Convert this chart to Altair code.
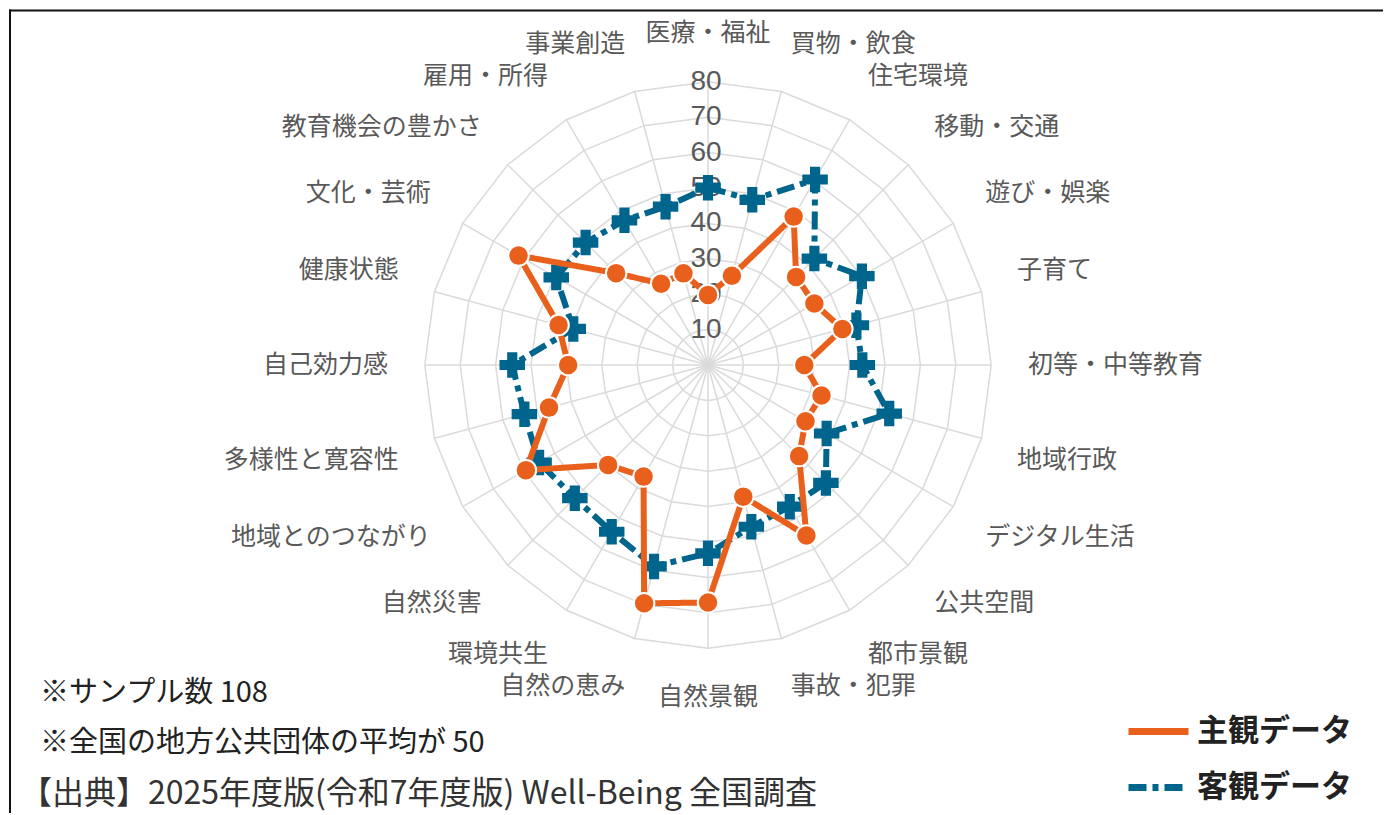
import altair as alt
import pandas as pd

# ---------------- data ----------------
categories = ["医療・福祉", "買物・飲食", "住宅環境", "移動・交通", "遊び・娯楽", "子育て",
              "初等・中等教育", "地域行政", "デジタル生活", "公共空間", "都市景観", "事故・犯罪",
              "自然景観", "自然の恵み", "環境共生", "自然災害", "地域とのつながり", "多様性と寛容性",
              "自己効力感", "健康状態", "文化・芸術", "教育機会の豊かさ", "雇用・所得", "事業創造"]
subjective = [19.8, 26.1, 48.4, 35.2, 34.7, 39.3, 27.2, 33.2, 31.8, 36.4, 55.6, 38.5,
              67.1, 69.7, 36.4, 39.9, 59.4, 46.5, 39.5, 43.7, 61.8, 36.7, 26.5, 26.8]
objective = [50.1, 48.3, 60.5, 42.5, 50.2, 43.4, 43.6, 53.0, 38.7, 47.1, 46.2, 47.3,
             53.2, 58.9, 54.4, 53.2, 55.1, 53.7, 55.3, 39.4, 49.5, 48.9, 47.2, 46.3]
series_names = ["主観データ", "客観データ"]
ring_values = [10, 20, 30, 40, 50, 60, 70, 80]
tick_labels = ["10", "20", "30", "40", "50", "60", "70", "80"]
notes = ["※サンプル数 108", "※全国の地方公共団体の平均が 50"]
source_text = "【出典】2025年度版(令和7年度版) Well-Being 全国調査"

# ---------------- style / layout ----------------
ORANGE = "#E8601C"
BLUE = "#00658C"
GRID = "#DADADA"
TEXT_GRAY = "#595959"
JP = "Noto Sans CJK JP"

W, H = 1375, 805          # view size
CX, CY = 700, 357          # radar centre inside the view
K = 3.54                   # pixels per unit
R_MAX = 80
N = len(categories)
LABEL_R = 90.4
LABEL_OFF = 3.4

xs = alt.Scale(domain=[-CX / K, (W - CX) / K], nice=False, zero=False)
ys = alt.Scale(domain=[-(H - CY) / K, CY / K], nice=False, zero=False)


def X(f):
    return alt.X(f, type="quantitative", scale=xs, axis=None)


def Y(f):
    return alt.Y(f, type="quantitative", scale=ys, axis=None)


ANG = f"datum.idx * 2 * PI / {N}"

# ---------------- tables ----------------
series_df = pd.DataFrame(
    [{"series": series_names[0], "idx": i, "cat": c, "value": v}
     for i, (c, v) in enumerate(zip(categories, subjective))]
    + [{"series": series_names[1], "idx": i, "cat": c, "value": v}
       for i, (c, v) in enumerate(zip(categories, objective))]
)
ring_df = pd.DataFrame([{"ring": r, "idx": i} for r in ring_values for i in range(N)])
spoke_df = pd.DataFrame({"idx": list(range(N))})
tick_df = pd.DataFrame({"v": ring_values, "label": tick_labels})
cat_df = pd.DataFrame({"idx": list(range(N)), "cat": categories})
note_df = pd.DataFrame({"t": notes, "row": [0, 1]})
one = pd.DataFrame({"a": [0]})

# ---------------- grid ----------------
rings = alt.Chart(ring_df).transform_calculate(
    ang=ANG
).transform_calculate(
    px="datum.ring * sin(datum.ang)", py="datum.ring * cos(datum.ang)"
).mark_line(interpolate="linear-closed", color=GRID, strokeWidth=1.5).encode(
    x=X("px"), y=Y("py"), detail="ring:N", order="idx:Q"
)

spokes = alt.Chart(spoke_df).transform_calculate(
    ang=ANG
).transform_calculate(
    z="0", ex=f"{R_MAX} * sin(datum.ang)", ey=f"{R_MAX} * cos(datum.ang)"
).mark_rule(color=GRID, strokeWidth=1.5).encode(
    x=X("z"), y=Y("z"), x2="ex:Q", y2="ey:Q"
)

ticks = alt.Chart(tick_df).transform_calculate(z="0").mark_text(
    font="Liberation Sans", fontSize=28, color=TEXT_GRAY, align="center", baseline="middle", dx=-2
).encode(x=X("z"), y=Y("v"), text="label:N")

# ---------------- category labels ----------------
cat_base = alt.Chart(cat_df).transform_calculate(
    ang=ANG
).transform_calculate(
    s="sin(datum.ang)", c="cos(datum.ang)"
).transform_calculate(
    lx=f"{LABEL_R} * datum.s",
    ly=f"{LABEL_R} * datum.c + (datum.c > 0.01 ? {LABEL_OFF} : (datum.c < -0.01 ? -{LABEL_OFF} : 0))",
)
cat_kw = dict(font=JP, fontSize=25, color=TEXT_GRAY, baseline="middle")
cat_right = cat_base.transform_filter("datum.s > 0.01").mark_text(align="left", **cat_kw).encode(
    x=X("lx"), y=Y("ly"), text="cat:N")
cat_left = cat_base.transform_filter("datum.s < -0.01").mark_text(align="right", **cat_kw).encode(
    x=X("lx"), y=Y("ly"), text="cat:N")
cat_mid = cat_base.transform_filter("abs(datum.s) <= 0.01").mark_text(align="center", **cat_kw).encode(
    x=X("lx"), y=Y("ly"), text="cat:N")

# ---------------- series ----------------
legend = alt.Legend(
    title=None, orient="none", legendX=1117, legendY=690, padding=0,
    symbolType="stroke", symbolSize=3600, symbolStrokeWidth=7,
    labelFont=JP, labelFontSize=31, labelFontWeight="bold", labelColor="#222222",
    labelOffset=5, rowPadding=7, labelLimit=400,
)
color_enc = alt.Color("series:N", scale=alt.Scale(domain=series_names, range=[ORANGE, BLUE]),
                      legend=legend)
dash_enc = alt.StrokeDash("series:N", scale=alt.Scale(domain=series_names, range=[[1, 0], [18, 6, 6, 6]]),
                          legend=legend)

series_base = alt.Chart(series_df).transform_calculate(
    ang=ANG
).transform_calculate(
    px="datum.value * sin(datum.ang)", py="datum.value * cos(datum.ang)"
)

blue_line = series_base.transform_filter(f"datum.series == '{series_names[1]}'").mark_line(
    interpolate="linear-closed", strokeWidth=6, strokeCap="butt"
).encode(x=X("px"), y=Y("py"), order="idx:Q", color=color_enc, strokeDash=dash_enc)

blue_pts = series_base.transform_filter(f"datum.series == '{series_names[1]}'").mark_point(
    shape="cross", filled=True, color=BLUE, size=650, opacity=1
).encode(x=X("px"), y=Y("py"))

orange_line = series_base.transform_filter(f"datum.series == '{series_names[0]}'").mark_line(
    interpolate="linear-closed", strokeWidth=6, strokeJoin="round"
).encode(x=X("px"), y=Y("py"), order="idx:Q", color=color_enc, strokeDash=dash_enc)

orange_pts = series_base.transform_filter(f"datum.series == '{series_names[0]}'").mark_circle(
    color=ORANGE, stroke="white", strokeWidth=2, size=420, opacity=1
).encode(x=X("px"), y=Y("py"))

# ---------------- annotations ----------------
note_txt = alt.Chart(note_df).transform_calculate(
    py="685 + datum.row * 50"
).mark_text(font=JP, fontSize=29, color="#222222", align="left", baseline="middle").encode(
    x=alt.value(32), y=alt.Y("py:Q", scale=None), text="t:N"
)
src_txt = alt.Chart(one).mark_text(
    font=JP, fontSize=32, color="#333333", align="left", baseline="middle", text=source_text
).encode(x=alt.value(12), y=alt.value(786))

frame_top = alt.Chart(one).mark_rule(color="#111111", strokeWidth=2).encode(
    x=alt.value(1), x2=alt.value(W), y=alt.value(2.5))
frame_left = alt.Chart(one).mark_rule(color="#111111", strokeWidth=2).encode(
    x=alt.value(2), y=alt.value(1.5), y2=alt.value(H))

chart = alt.layer(
    rings, spokes, ticks, cat_right, cat_left, cat_mid,
    blue_line, blue_pts, orange_line, orange_pts,
    note_txt, src_txt, frame_top, frame_left,
).properties(
    width=W, height=H, padding=0,
    autosize=alt.AutoSizeParams(type="none"),
    background="white",
).configure_view(strokeWidth=0)

chart.save("out.html", embed_options={"renderer": "svg", "actions": False})
